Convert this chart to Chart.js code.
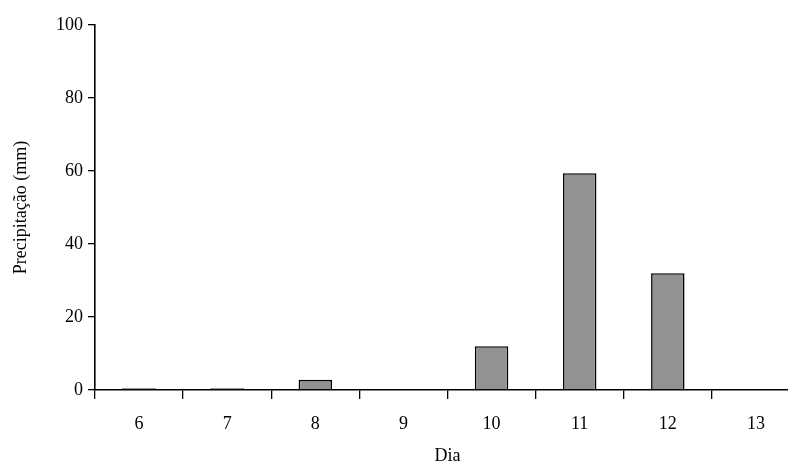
<!DOCTYPE html>
<html><head><meta charset="utf-8">
<script src="https://cdn.jsdelivr.net/npm/chart.js@4"></script>
<style>html,body{margin:0;padding:0;overflow:hidden;background:#fff}#w{width:802px;height:467px}</style>
</head><body><div id="w"><canvas id="c"></canvas></div>
<script>
const categories = ["6","7","8","9","10","11","12","13"];
const precipitation = [0.5, 0.5, 2.8, 0, 12, 59.4, 32, 0];
const yTicks = [0,20,40,60,80,100];
const font = {family:"'Liberation Serif'", size:18};
new Chart(document.getElementById('c'), {
  type:'bar',
  data:{labels:categories, datasets:[{data:precipitation, backgroundColor:'#929292', borderColor:'#000', borderWidth:1.6, barPercentage:0.38, categoryPercentage:1}]},
  options:{
    responsive:true, maintainAspectRatio:false, animation:false,
    layout:{padding:{top:25,right:2,left:0,bottom:0}},
    plugins:{legend:{display:false},tooltip:{enabled:false}},
    scales:{
      x:{grid:{drawOnChartArea:false,color:'#000',tickLength:9,offset:true,lineWidth:1.3},border:{color:'#000',width:1.6},
         ticks:{color:'#000',font,padding:14},
         title:{display:true,text:'Dia',color:'#000',font,padding:{top:2,bottom:0}},
         afterFit:s=>{s.height=77;}},
      y:{min:0,max:100,afterBuildTicks:s=>{s.ticks=yTicks.map(v=>({value:v}));},
         grid:{drawOnChartArea:false,color:'#000',tickLength:7,lineWidth:1.3},border:{color:'#000',width:1.6},
         ticks:{color:'#000',font,padding:5},
         title:{display:true,text:'Precipitação (mm)',color:'#000',font,padding:{top:10,bottom:0}},
         afterFit:s=>{s.width=95;}}
    }
  }
});
</script></body></html>
